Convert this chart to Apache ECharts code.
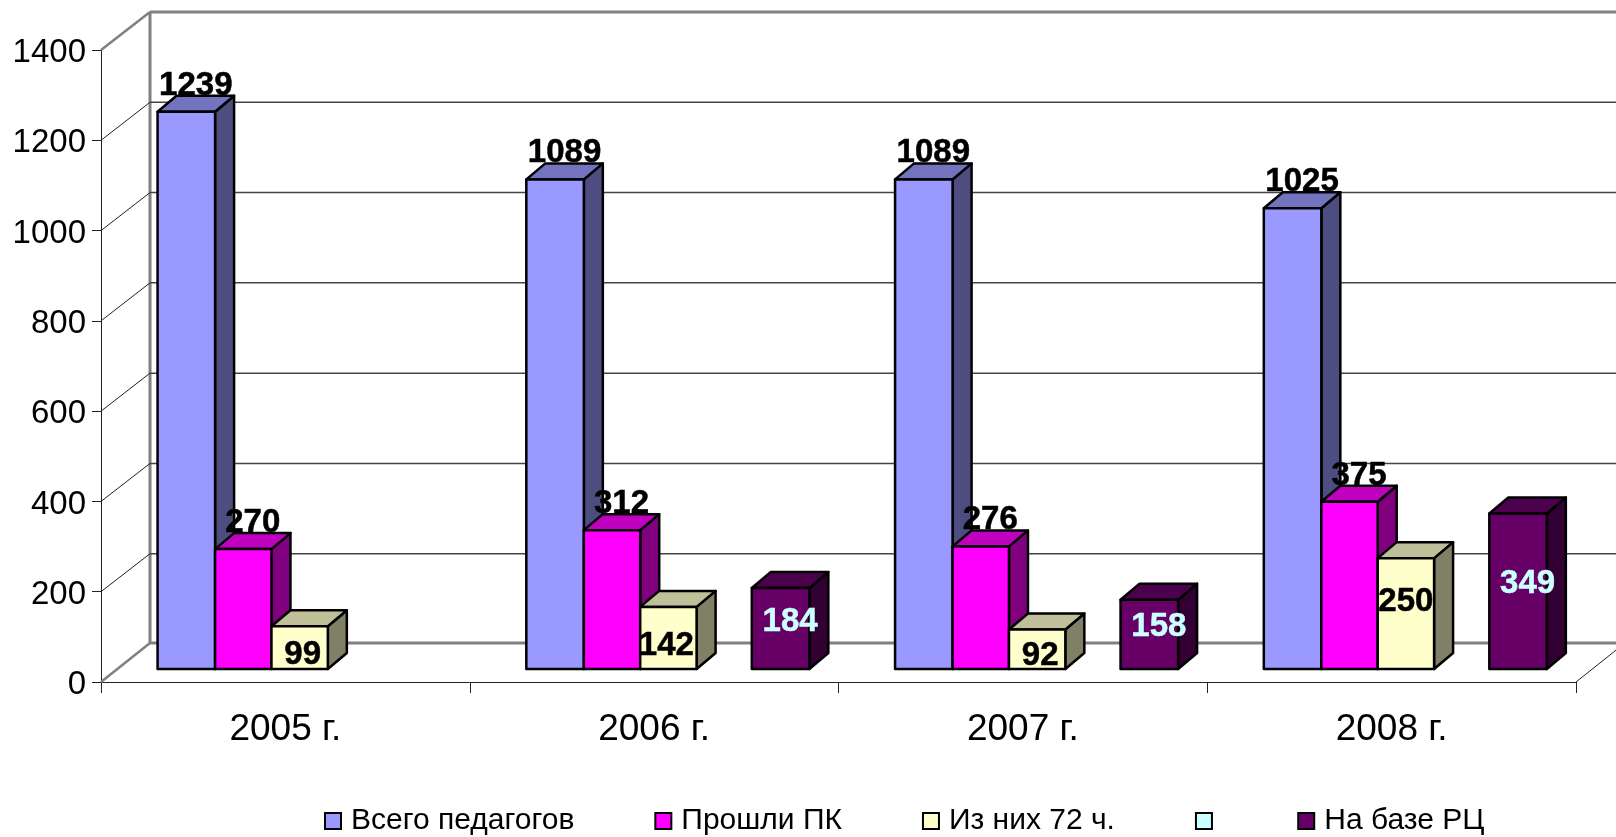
<html>
<head>
<meta charset="UTF-8">
<script src="https://cdn.jsdelivr.net/npm/echarts@6/dist/echarts.min.js"></script>
<style>
	html, body { margin: 0; padding: 0; background: #fff; }
</style>
</head>
<body>
	<div id="main" style="height: 837px; width: 1616px"></div>
</body>
<script>
	var categories = ['2005 г.', '2006 г.', '2007 г.', '2008 г.'];
	var yTicks = [0, 200, 400, 600, 800, 1000, 1200, 1400];
	var vsegoPedagogov = [1239, 1089, 1089, 1025];
	var proshliPk = [270, 312, 276, 375];
	var iz72 = [99, 142, 92, 250];
	var pustoy = [null, null, null, null];
	var naBazeRc = [null, 184, 158, 349];

	var FONT = '"Liberation Sans", Arial, sans-serif';
	// смещение стенки и глубина столбиков (псевдо-3D)
	var WALL_DX = 49, WALL_DY = 39;
	var FLOOR_DX = 16, FLOOR_DY = 13;
	var BAR_DX = 19, BAR_DY = 16;
	var TOP_FIX = 2; // верх столбиков в оригинале чуть ниже шкалы
	var SLOT = 0.156; // доля категории на один столбик

	// в оригинале подписи жёлтых столбиков сдвинуты вручную
	var yellowLabelShift = [7, 8, 7, -12];
	var yellowLabelDx = [3, -2, 3, 0];

	function wallItem(params, api) {
		var v = api.value(1);
		var left = params.coordSys.x;
		var right = left + params.coordSys.width;
		var y = api.coord([0, v])[1];
		var edge = v === 0 || v === 1400;
		var dy = v === 0 ? WALL_DY : WALL_DY - 1;
		var children = [{
			type: 'polyline',
			shape: { points: [[left, y], [left + WALL_DX, y - dy]] },
			style: { fill: 'none', stroke: edge ? '#808080' : '#222', lineWidth: edge ? 2.5 : 1 }
		}, {
			type: 'line',
			shape: { x1: left + WALL_DX, y1: y - dy, x2: right + WALL_DX, y2: y - dy },
			style: { stroke: edge ? '#808080' : '#444', lineWidth: edge ? 3 : 1.5 }
		}];
		if (v === 0) {
			var top = api.coord([0, 1400])[1];
			children.push({
				type: 'line',
				shape: { x1: left + WALL_DX, y1: y - dy, x2: left + WALL_DX, y2: top - dy + 1 },
				style: { stroke: '#808080', lineWidth: 3 }
			});
			children.push({
				type: 'line',
				shape: { x1: right, y1: y, x2: right + WALL_DX, y2: y - dy },
				style: { stroke: '#222', lineWidth: 1 }
			});
		}
		return { type: 'group', children: children };
	}

	function barRenderer(conf) {
		return function(params, api) {
			var idx = api.value(0);
			var v = api.value(1);
			if (isNaN(v)) return;
			var band = api.size([1, 0])[0];
			var w = band * SLOT * (conf.widen || 1);
			var cx = api.coord([idx, 0])[0] + FLOOR_DX;
			var x0 = cx + (conf.slot - 2.5) * band * SLOT;
			var x1 = x0 + w;
			var yb = api.coord([idx, 0])[1] - FLOOR_DY;
			var yt = api.coord([idx, v])[1] - FLOOR_DY + TOP_FIX;
			var line = { stroke: '#000', lineWidth: 2.5, lineJoin: 'round' };
			var lx, ly, color = '#000';
			if (conf.label === 'top') {
				lx = (x0 + x1 + BAR_DX) / 2;
				ly = yt - BAR_DY - 10;
			} else if (conf.label === 'inner') {
				lx = (x0 + x1) / 2 + yellowLabelDx[idx];
				ly = (yt + yb) / 2 + yellowLabelShift[idx];
			} else {
				lx = (x0 + x1 + BAR_DX) / 2;
				ly = (yt + yb) / 2 - 7;
				color = '#CCFFFF';
			}
			return {
				type: 'group',
				children: [{
					type: 'polygon',
					shape: { points: [[x1, yb], [x1 + BAR_DX, yb - BAR_DY], [x1 + BAR_DX, yt - BAR_DY], [x1, yt]] },
					style: Object.assign({ fill: conf.side }, line)
				}, {
					type: 'polygon',
					shape: { points: [[x0, yt], [x0 + BAR_DX, yt - BAR_DY], [x1 + BAR_DX, yt - BAR_DY], [x1, yt]] },
					style: Object.assign({ fill: conf.top }, line)
				}, {
					type: 'rect',
					shape: { x: x0, y: yt, width: w, height: yb - yt },
					style: Object.assign({ fill: conf.front }, line)
				}, {
					type: 'text',
					z2: 100,
					style: {
						x: lx, y: ly, text: String(v), fill: color,
						stroke: color, lineWidth: 0.5,
						fontSize: 33, fontWeight: 'bold', fontFamily: FONT,
						align: 'center', verticalAlign: 'middle'
					}
				}]
			};
		};
	}

	function toData(values) {
		return values.map(function(v, i) { return [i, v]; }).filter(function(d) { return d[1] !== null; });
	}

	function barSeries(name, values, conf) {
		return {
			name: name,
			type: 'custom',
			z: 3,
			clip: false,
			animation: false,
			itemStyle: { color: conf.front },
			encode: { x: 0, y: 1 },
			data: toData(values),
			renderItem: barRenderer(conf)
		};
	}

	var myChart = echarts.init(document.getElementById('main'));
	var option = {
		backgroundColor: '#fff',
		animation: false,
		grid: { left: 101, right: 40, top: 50, bottom: 155 },
		legend: {
			left: 324,
			top: 806,
			padding: 0,
			itemWidth: 16,
			itemHeight: 16,
			itemGap: 80,
			selectedMode: false,
			icon: 'rect',
			itemStyle: { borderColor: '#000', borderWidth: 2 },
			textStyle: { fontSize: 30, fontFamily: FONT, color: '#000', padding: [0, 0, 0, 5] },
			data: ['Всего педагогов', 'Прошли ПК', 'Из них 72 ч.', { name: ' ', textStyle: { fontSize: 1, padding: 0 } }, 'На базе РЦ']
		},
		xAxis: {
			type: 'category',
			data: categories,
			axisLine: { lineStyle: { color: '#222', width: 1 } },
			axisTick: { show: true, alignWithLabel: false, length: 11, lineStyle: { color: '#222', width: 1 } },
			axisLabel: { fontSize: 37, fontFamily: FONT, color: '#000', margin: 29 }
		},
		yAxis: {
			type: 'value',
			min: 0,
			max: 1400,
			interval: 200,
			axisLine: { show: true, lineStyle: { color: '#222', width: 1 } },
			axisTick: { show: true, length: 9, lineStyle: { color: '#222', width: 1 } },
			axisLabel: {
				fontSize: 33, fontFamily: FONT, color: '#000', margin: 15,
				// подписи в оригинале чуть ниже засечек
				verticalAlign: 'top',
				lineHeight: 6,
				formatter: function(v) { return String(v); }
			},
			splitLine: { show: false }
		},
		series: [{
			name: 'wall',
			type: 'custom',
			z: 1,
			clip: false,
			animation: false,
			encode: { x: 0, y: 1 },
			data: yTicks.map(function(v) { return [0, v]; }),
			renderItem: wallItem
		},
		barSeries('Всего педагогов', vsegoPedagogov, { slot: 0, front: '#9999FF', side: '#4D4D80', top: '#7373BF', label: 'top' }),
		barSeries('Прошли ПК', proshliPk, { slot: 1, widen: 0.98, front: '#FF00FF', side: '#800080', top: '#BF00BF', label: 'top' }),
		barSeries('Из них 72 ч.', iz72, { slot: 1.98, widen: 0.98, front: '#FFFFCC', side: '#808066', top: '#BFBF99', label: 'inner' }),
		barSeries(' ', pustoy, { slot: 3, front: '#CCFFFF', side: '#668080', top: '#99BFBF', label: 'none' }),
		barSeries('На базе РЦ', naBazeRc, { slot: 3.92, widen: 1, front: '#660066', side: '#330033', top: '#4D004D', label: 'side' })
		]
	};
	myChart.setOption(option);
</script>
</html>
